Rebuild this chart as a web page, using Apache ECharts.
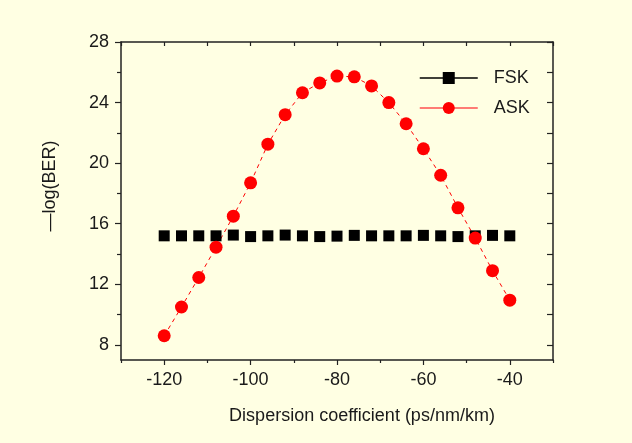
<!DOCTYPE html>
<html><head><meta charset="utf-8">
<script src="https://cdn.jsdelivr.net/npm/echarts@6/dist/echarts.min.js"></script>
<style>html,body{margin:0;padding:0;background:#ffffe3;}#c{width:632px;height:443px;}</style>
</head><body><div id="c"></div>
<script>
const dispersion = [-120,-116,-112,-108,-104,-100,-96,-92,-88,-84,-80,-76,-72,-68,-64,-60,-56,-52,-48,-44,-40];
const fsk = [15.2,15.2,15.2,15.2,15.25,15.15,15.2,15.25,15.2,15.15,15.18,15.23,15.2,15.2,15.2,15.23,15.2,15.15,15.2,15.23,15.2];
const ask = [8.6,10.5,12.45,14.45,16.5,18.7,21.25,23.2,24.65,25.3,25.75,25.7,25.1,24.0,22.6,20.95,19.2,17.05,15.05,12.9,10.95];
const xMajor = [-120,-100,-80,-60,-40];
const xMinor = [-130,-110,-90,-70,-50,-30];
const yMajor = [8,12,16,20,24,28];
const yMinor = [10,14,18,22,26];

const txt = '#1a1a1a';
const font = 'Liberation Sans, Arial, sans-serif';
const fs = 18;
const axLine = {show:true, lineStyle:{color:'#222', width:1.5}};
const chart = echarts.init(document.getElementById('c'));
const baseX = {type:'value', min:-130, max:-30, splitLine:{show:false}};
const baseY = {type:'value', min:7, max:28, splitLine:{show:false}};
chart.setOption({
  backgroundColor:'#ffffe3',
  animation:false,
  grid:{left:121, right:79, top:42, bottom:83, containLabel:false},
  legend:{
    orient:'vertical', left:414, top:64, itemWidth:58, itemHeight:15, itemGap:12,
    textStyle:{fontSize:fs, color:txt, fontFamily:font, padding:[0,0,0,11]},
    data:[
      {name:'FSK', lineStyle:{color:'#000', width:1.5, opacity:1, type:'solid'}},
      {name:'ASK', lineStyle:{color:'#ff5050', width:1.5, opacity:1, type:'solid'}}
    ]
  },
  xAxis:[
    Object.assign({}, baseX, {position:'bottom', axisLine:axLine,
      axisTick:{show:true, customValues:xMajor, length:5, lineStyle:{color:'#222', width:1.2}},
      axisLabel:{customValues:xMajor, fontSize:fs, color:txt, fontFamily:font, margin:11},
      name:'Dispersion coefficient (ps/nm/km)', nameLocation:'middle', nameGap:47,
      nameTextStyle:{fontSize:fs, color:txt, fontFamily:font, padding:[0,0,0,50]}}),
    Object.assign({}, baseX, {position:'bottom', axisLine:{show:false},
      axisTick:{show:true, customValues:xMinor, length:3, lineStyle:{color:'#222', width:1.2}},
      axisLabel:{show:false}}),
    Object.assign({}, baseX, {position:'top', interval:10, axisLine:axLine,
      axisTick:{show:true, inside:true, length:4, lineStyle:{color:'#222', width:1.2}},
      axisLabel:{show:false}})
  ],
  yAxis:[
    Object.assign({}, baseY, {position:'left', axisLine:axLine,
      axisTick:{show:true, customValues:yMajor, length:6, lineStyle:{color:'#222', width:1.2}},
      axisLabel:{customValues:yMajor, fontSize:fs, color:txt, fontFamily:font, margin:12},
      name:'—log(BER)', nameLocation:'middle', nameGap:62, nameRotate:90,
      nameTextStyle:{fontSize:fs, color:txt, fontFamily:font, padding:[0,0,0,30]}}),
    Object.assign({}, baseY, {position:'left', axisLine:{show:false},
      axisTick:{show:true, customValues:yMinor, length:4, lineStyle:{color:'#222', width:1.2}},
      axisLabel:{show:false}}),
    Object.assign({}, baseY, {position:'right', axisLine:axLine,
      axisTick:{show:true, inside:true, customValues:yMajor.concat(yMinor), length:6, lineStyle:{color:'#222', width:1.2}},
      axisLabel:{show:false}})
  ],
  series:[
    {name:'FSK', type:'line', xAxisIndex:0, yAxisIndex:0,
      data:dispersion.map((x,i)=>[x,fsk[i]]),
      symbol:'rect', symbolSize:11, itemStyle:{color:'#000'},
      lineStyle:{width:0, opacity:0, color:'#000'}},
    {name:'ASK', type:'line', xAxisIndex:0, yAxisIndex:0,
      data:dispersion.map((x,i)=>[x,ask[i]]),
      symbol:'circle', symbolSize:13, itemStyle:{color:'#ff0000'},
      lineStyle:{width:1, color:'#ff0000', type:[4,4]}}
  ]
});
</script></body></html>
